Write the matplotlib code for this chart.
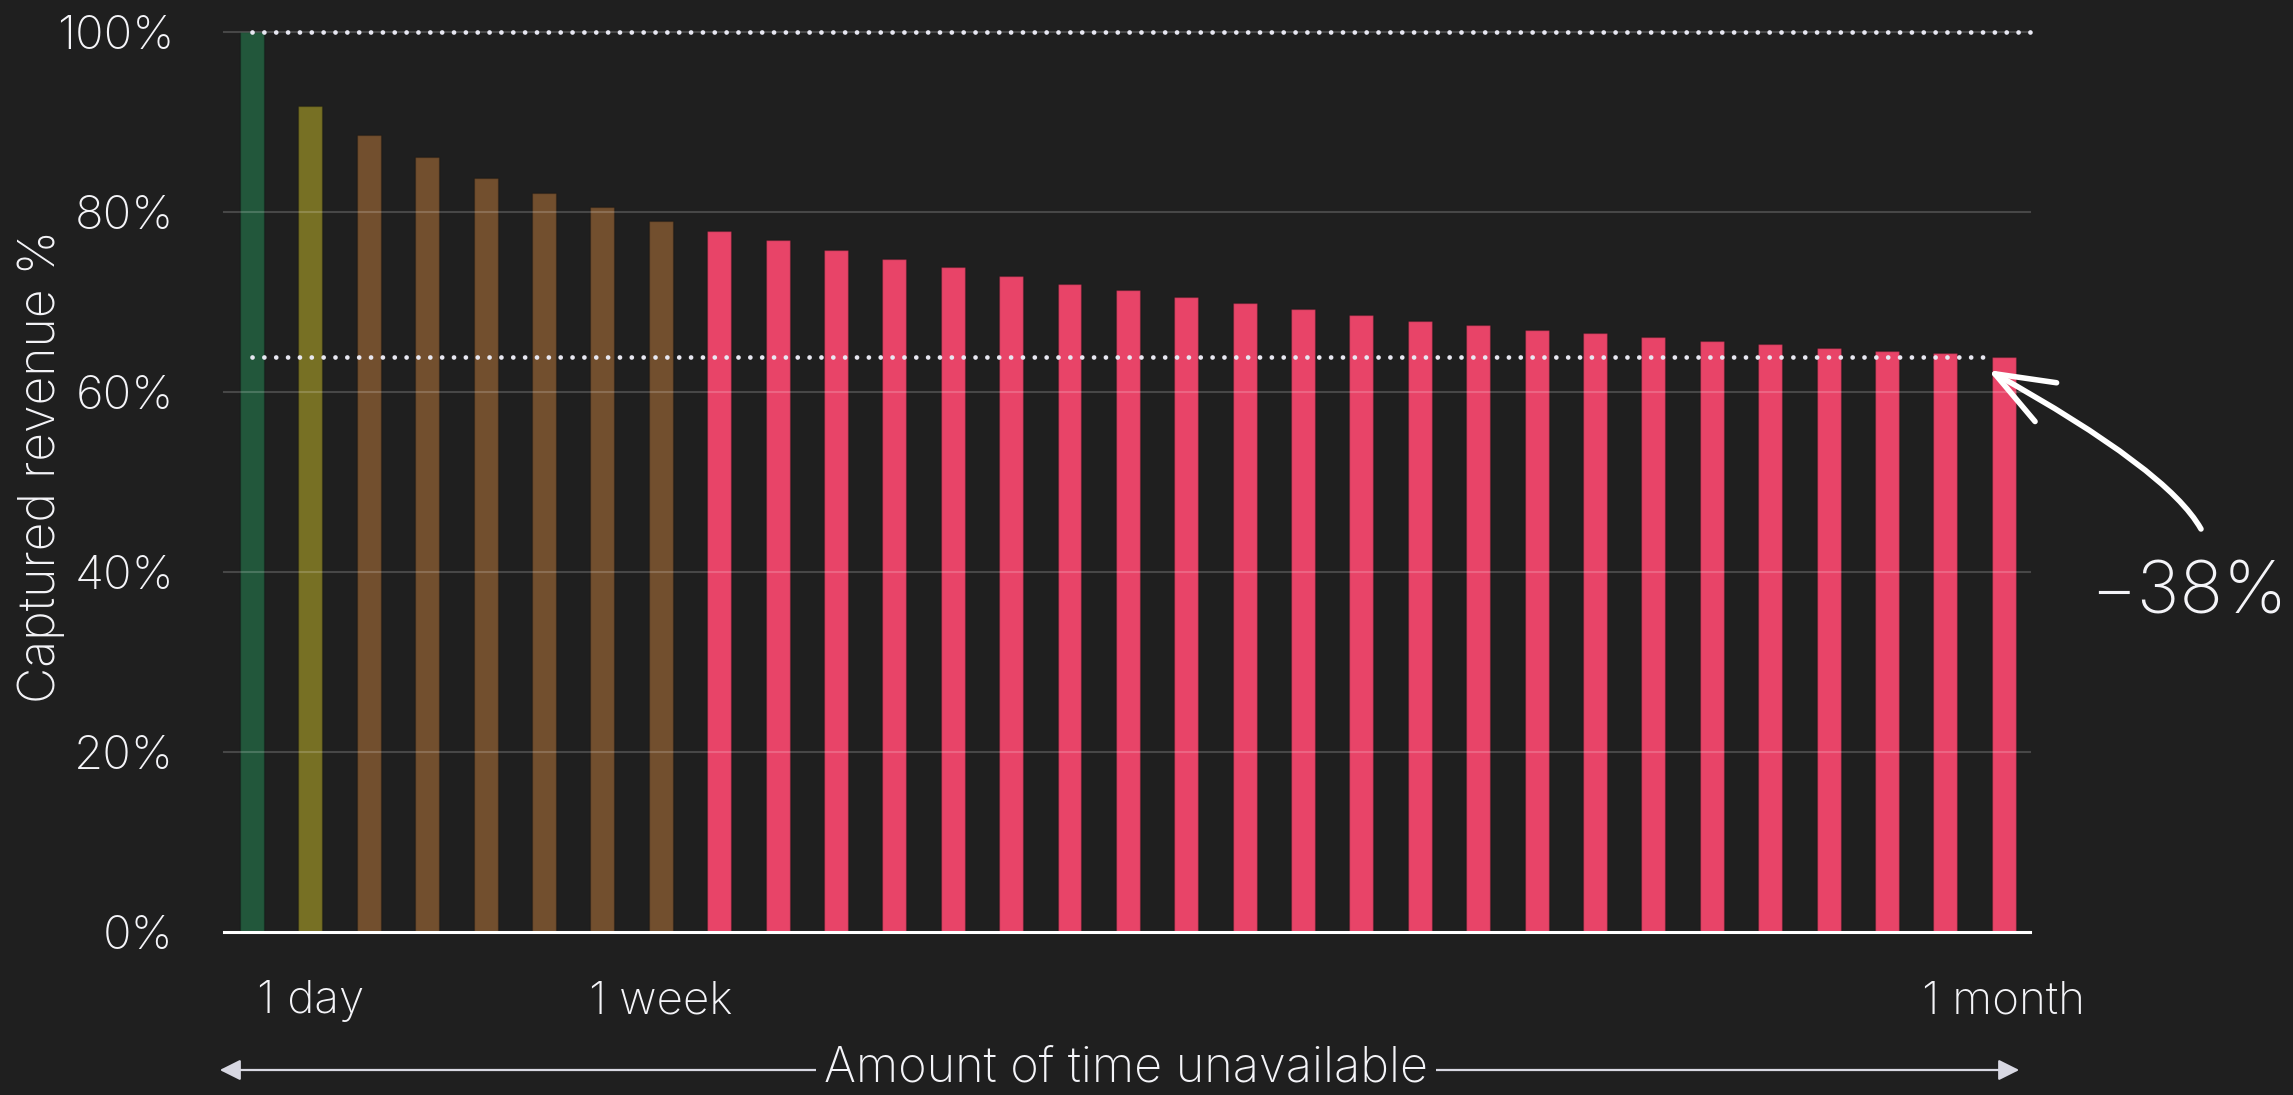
import matplotlib
matplotlib.use("Agg")
import matplotlib.pyplot as plt
from matplotlib.patches import FancyArrowPatch
from matplotlib.path import Path
import numpy as np

# ---------------- data ----------------
days = list(range(0, 31))
captured_revenue = [100, 91.8, 88.5, 86.1, 83.7, 82.1, 80.5, 79.0, 77.85, 76.85,
                    75.8, 74.8, 73.85, 72.85, 72.0, 71.3, 70.5, 69.85, 69.2, 68.5,
                    67.9, 67.4, 66.9, 66.5, 66.05, 65.6, 65.3, 64.9, 64.5, 64.3, 63.9]
groups = ["none", "day"] + ["week"] * 6 + ["month"] * 23
xtick_positions = [1, 7, 30]
xtick_labels = ["1 day", "1 week", "1 month"]
yticks = [0, 20, 40, 60, 80, 100]
change_label = "\u221238%"

# ---------------- style ----------------
BG = "#1f1f1f"
FG = "#f4f4f8"
group_colors = {"none": "#22573b", "day": "#777024", "week": "#724f2e", "month": "#e84468"}
FAM = ["Inter", "DejaVu Sans"]
plt.rcParams["font.family"] = FAM
plt.rcParams["font.weight"] = "light"

W, H = 2293, 1095
fig = plt.figure(figsize=(W / 100, H / 100), dpi=100, facecolor=BG)
ax = fig.add_axes([224 / W, 1 - 931.7 / H, (2030 - 224) / W, (931.7 - 31.7) / H])
ax.set_facecolor(BG)

colors = [group_colors[g] for g in groups]
ax.bar(days, captured_revenue, width=0.41, color=colors, zorder=2,
       edgecolor=(0, 0, 0, 0.22), linewidth=1.0)

ax.set_xlim(-0.48, 30.45)
ax.set_ylim(0, 100)

# grid lines on top of bars
for y in yticks[1:]:
    ax.axhline(y, color="white", alpha=0.18, lw=1.5, zorder=3, clip_on=False)
ax.axhline(0, color="white", lw=2.2, zorder=5, clip_on=False)

# dotted reference lines
dot_kw = dict(color="#e8e8f2", lw=3.4, linestyle=(0, (0.01, 2.5)),
              dash_capstyle="round", zorder=4, clip_on=False)
xmax = ax.get_xlim()[1]
ax.plot([days[0], xmax], [captured_revenue[0]] * 2, **dot_kw)
ax.plot([days[0], days[-1] - 0.2], [captured_revenue[-1]] * 2, **dot_kw)

for s in ax.spines.values():
    s.set_visible(False)

ax.set_yticks(yticks)
ax.set_yticklabels([f"{v}%" for v in yticks])
ax.set_xticks(xtick_positions)
ax.set_xticklabels(xtick_labels)
ax.tick_params(axis="y", length=0, pad=36, labelsize=34, labelcolor=FG)
ax.tick_params(axis="x", length=0, pad=35, labelsize=33, labelcolor=FG)

fig.text(41 / W, 1 - 466 / H, "Captured revenue %", rotation=90, ha="center",
         va="center", fontsize=36, color=FG)

# bottom axis arrow with label
arr = FancyArrowPatch((217 / W, 1 - 1070 / H), (2022 / W, 1 - 1070 / H),
                      arrowstyle="<|-|>,head_length=0.7,head_width=0.35",
                      mutation_scale=18, lw=1.6, color="#d8d8e2",
                      transform=fig.transFigure)
fig.add_artist(arr)
fig.text(1126 / W, 1 - 1068 / H, "Amount of time unavailable", ha="center",
         va="center", fontsize=35, color=FG, zorder=10,
         bbox=dict(facecolor=BG, edgecolor="none", pad=6))

# curved annotation arrow
tail = (2201 / W, 1 - 529 / H)
ctrl = (2168 / W, 1 - 470 / H)
tip = (1988 / W, 1 - 370 / H)
curve = Path([tail, ctrl, tip], [Path.MOVETO, Path.CURVE3, Path.CURVE3])
ca = FancyArrowPatch(path=curve, arrowstyle="->,head_length=1.0,head_width=0.38",
                     mutation_scale=42, lw=4.0, color="white",
                     capstyle="round", joinstyle="round",
                     transform=fig.transFigure)
fig.add_artist(ca)

fig.text(2189 / W, 1 - 595 / H, change_label, ha="center", va="center",
         fontsize=52, color=FG, family=FAM)

fig.savefig("out.png", dpi=100, facecolor=BG)
